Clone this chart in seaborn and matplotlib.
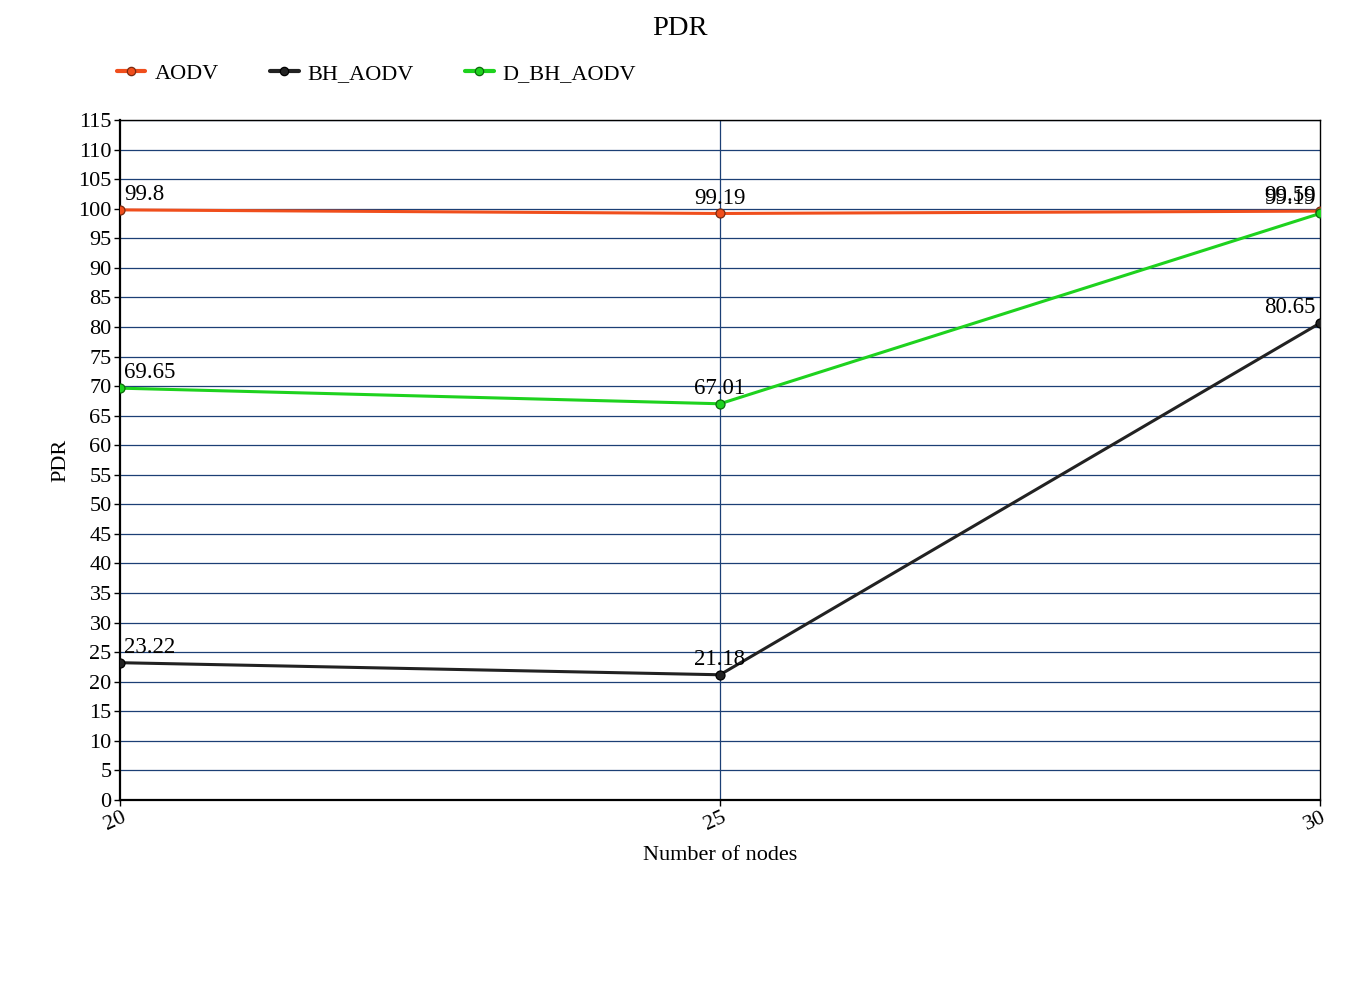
import pandas as pd
import seaborn as sns
import matplotlib.pyplot as plt
from matplotlib.transforms import ScaledTranslation

# node counts and PDR values per protocol
nodes = [20, 25, 30]
aodv = [99.8, 99.19, 99.59]
bh_aodv = [23.22, 21.18, 80.65]
d_bh_aodv = [69.65, 67.01, 99.19]

series_names = ["AODV", "BH_AODV", "D_BH_AODV"]
colours = ["#f04e1c", "#222222", "#1ed21e"]
edge_colours = ["#7a2a10", "#000000", "#0b6a0b"]

df = pd.DataFrame({
    "Number of nodes": nodes * 3,
    "PDR": aodv + bh_aodv + d_bh_aodv,
    "Protocol": [n for n in series_names for _ in nodes],
})

sns.set_style("white")
plt.rcParams["font.family"] = ["Liberation Serif", "DejaVu Serif"]
plt.rcParams["text.color"] = "black"
plt.rcParams["axes.labelcolor"] = "black"
plt.rcParams["xtick.color"] = "black"
plt.rcParams["ytick.color"] = "black"

fig = plt.figure(figsize=(13.6, 10), dpi=100)
ax = fig.add_axes([120 / 1360, 0.2, 1200 / 1360, 0.68])

# grid first so lines sit under the data
for yv in range(5, 116, 5):
    ax.axhline(yv, color="#1c3f75", lw=0.9, zorder=1)
ax.axvline(25, color="#1c3f75", lw=0.9, zorder=1)

sns.lineplot(
    data=df,
    x="Number of nodes",
    y="PDR",
    hue="Protocol",
    palette=colours,
    lw=2.2,
    ax=ax,
    zorder=3,
    legend=False,
)

# markers with darker edges
for name, col, ec in zip(series_names, colours, edge_colours):
    sub = df[df["Protocol"] == name]
    ax.scatter(sub["Number of nodes"], sub["PDR"], s=42, color=col,
               edgecolor=ec, linewidth=0.9, zorder=4)

# value labels
for name in series_names:
    sub = df[df["Protocol"] == name]
    for x, y in zip(sub["Number of nodes"], sub["PDR"]):
        if x == nodes[0]:
            ha, dx = "left", 3
        elif x == nodes[-1]:
            ha, dx = "right", -3
        else:
            ha, dx = "center", 0
        ax.annotate(f"{y:g}", (x, y), xytext=(dx, 3.5), textcoords="offset points",
                    ha=ha, va="bottom", fontsize=16.5, color="black", zorder=5)

ax.set_xlim(20, 30)
ax.set_ylim(0, 115)
ax.set_yticks(range(0, 116, 5))
ax.set_xticks(nodes)
ax.tick_params(axis="y", labelsize=16, length=4, width=1, direction="out", left=True, pad=2)
ax.tick_params(axis="x", labelsize=16, length=4, width=1, direction="out", bottom=True, pad=2)
shift = ScaledTranslation(9 / 100, 0, fig.dpi_scale_trans)
for lab in ax.get_xticklabels():
    lab.set_rotation(25)
    lab.set_ha("right")
    lab.set_transform(lab.get_transform() + shift)

for side in ["left", "bottom"]:
    ax.spines[side].set_color("black")
    ax.spines[side].set_linewidth(1.6)
for side in ["top", "right"]:
    ax.spines[side].set_color("black")
    ax.spines[side].set_linewidth(1.0)

ax.set_xlabel("Number of nodes", fontsize=16, labelpad=8)
ax.set_ylabel("PDR", fontsize=16, labelpad=6)
fig.text(0.5, 0.984, "PDR", ha="center", va="top", fontsize=20.5)

# legend above the plot
handles = [plt.Line2D([], [], color=c, lw=3, marker="o", markersize=6,
                      markerfacecolor=c, markeredgecolor=ec, markeredgewidth=0.9)
           for c, ec in zip(colours, edge_colours)]
fig.legend(handles, series_names, loc="center left", bbox_to_anchor=(0.071, 0.926),
           ncol=3, frameon=False, fontsize=16, handlelength=1.3, handletextpad=0.4,
           columnspacing=2.3)

plt.savefig("out.png", dpi=100)
